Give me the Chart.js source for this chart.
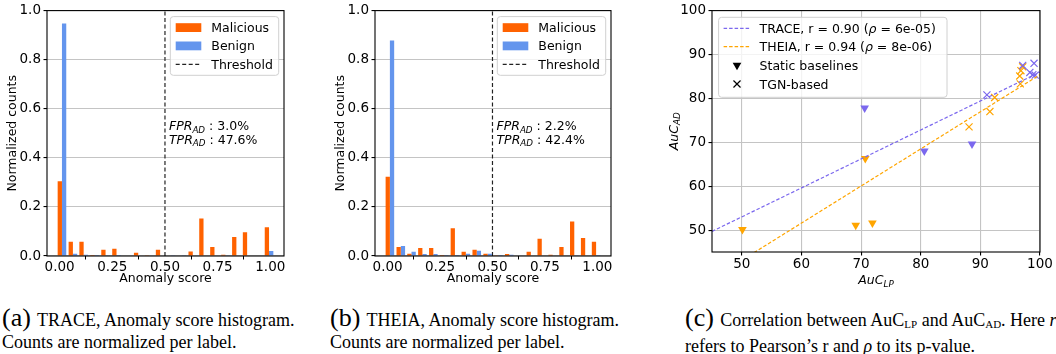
<!DOCTYPE html>
<html>
<head>
<meta charset="utf-8">
<script src="https://cdn.jsdelivr.net/npm/chart.js@4.4.1/dist/chart.umd.min.js"></script>
<style>
  html, body { margin: 0; padding: 0; background: #fff; }
  body { width: 1056px; height: 354px; position: relative; overflow: hidden; }
  canvas { position: absolute; top: 0; }
  .cap { position: absolute; top: 307px; font-family: "Liberation Serif", "Times New Roman", serif; font-size: 18px; line-height: 22px; color: #000; white-space: nowrap; }
  .cap .tag { font-size: 26px; margin-right: 2px; }
  .cap sub { font-size: 11px; vertical-align: -2px; }
</style>
</head>
<body>
<canvas id="histTrace" width="300" height="300" style="left:0"></canvas>
<canvas id="histTheia" width="310" height="300" style="left:320px"></canvas>
<canvas id="corr" width="416" height="300" style="left:640px"></canvas>

<div class="cap" style="left:2px"><span class="tag">(a)</span> TRACE, Anomaly score histogram.<br>Counts are normalized per label.</div>
<div class="cap" style="left:330px"><span class="tag">(b)</span> THEIA, Anomaly score histogram.<br>Counts are normalized per label.</div>
<div class="cap" style="left:685px"><span class="tag">(c)</span> Correlation between AuC<sub>LP</sub> and AuC<sub>AD</sub>. Here <i>r</i><br>refers to Pearson’s r and <i>ρ</i> to its p-value.</div>

<script>
/* global Chart */

// ---- data ----
var binCenters = [0.011, 0.063, 0.114, 0.166, 0.218, 0.270, 0.321, 0.373, 0.425, 0.477,
                  0.528, 0.580, 0.632, 0.683, 0.735, 0.787, 0.839, 0.890, 0.942, 0.994];
var scoreTicks = [0, 0.25, 0.5, 0.75, 1];
var countTicks = [0, 0.2, 0.4, 0.6, 0.8, 1];
var threshold = 0.5;

var traceMalicious = [0.305, 0.058, 0.058, 0.004, 0.025, 0.030, 0.002, 0.013, 0.001, 0.025,
                      0.002, 0.002, 0.018, 0.153, 0.037, 0.005, 0.077, 0.097, 0.002, 0.117];
var traceBenign = [0.947, 0.009, 0.005, 0.004, 0.003, 0.004, 0.002, 0.002, 0.002, 0.002,
                   0.001, 0.001, 0.002, 0.002, 0.002, 0.003, 0.002, 0.002, 0.002, 0.020];
var theiaMalicious = [0.323, 0.037, 0.009, 0.033, 0.033, 0.004, 0.113, 0.017, 0.025, 0.009,
                      0.003, 0.008, 0.002, 0.017, 0.070, 0.005, 0.037, 0.141, 0.073, 0.058];
var theiaBenign = [0.878, 0.041, 0.017, 0.008, 0.008, 0.004, 0.004, 0.009, 0.021, 0.009,
                   0.004, 0.005, 0.002, 0.002, 0.002, 0.002, 0.002, 0.003, 0.002, 0.004];

var histLegend = ["Malicious", "Benign", "Threshold"];

var aucTicks = [50, 60, 70, 80, 90, 100];
var traceStaticLP = [70.6, 80.6, 88.6];
var traceStaticAD = [77.8, 68.0, 69.6];
var traceTgnLP = [91.1, 97.1, 99.0, 98.3, 98.8, 99.2];
var traceTgnAD = [80.8, 87.5, 88.0, 85.9, 85.4, 85.3];
var theiaStaticLP = [50.1, 69.1, 71.9, 70.7];
var theiaStaticAD = [50.1, 51.1, 51.6, 66.3];
var theiaTgnLP = [88.1, 91.6, 92.4, 96.7, 96.6, 96.8, 97.1];
var theiaTgnAD = [73.5, 77.0, 80.2, 83.3, 85.1, 86.3, 87.2];
var fitLP = [45, 100];
var traceFitAD = [49.7, 86.0];
var theiaFitAD = [38.9, 85.4];
var traceR = "0.90", traceP = "6e-05";
var theiaR = "0.94", theiaP = "8e-06";

// ---- styling ----
var FONT = "'DejaVu Sans', sans-serif";
var SIZE = 12.5;
var TICK = 13.5;
var MALICIOUS = "#ff6200";
var BENIGN = "#6495ed";
var TRACE_C = "#7b68ee";
var THEIA_C = "#ffa500";
var GRID = "#c4c4c4";

function pairs(xs, ys) {
  return xs.map(function (x, i) { return { x: x, y: ys[i] }; });
}

function fixedTicks(list) {
  return function (scale) {
    scale.ticks = list.map(function (v) { return { value: v }; });
  };
}

// text in pieces so subscripts / italics can be mixed
function drawRuns(ctx, x, y, runs) {
  ctx.textAlign = "left";
  ctx.textBaseline = "alphabetic";
  runs.forEach(function (r) {
    ctx.font = (r.italic ? "italic " : "") + r.size + "px " + FONT;
    ctx.fillText(r.text, x, y + (r.dy || 0));
    x += ctx.measureText(r.text).width;
  });
}

function runsWidth(ctx, runs) {
  var w = 0;
  runs.forEach(function (r) {
    ctx.font = (r.italic ? "italic " : "") + r.size + "px " + FONT;
    w += ctx.measureText(r.text).width;
  });
  return w;
}

function subRuns(main, sub, rest) {
  var runs = [
    { text: main, italic: true, size: SIZE },
    { text: sub, italic: true, size: SIZE * 0.7, dy: 2.6 }
  ];
  if (rest) runs.push({ text: rest, size: SIZE });
  return runs;
}

function legendBox(ctx, x, y, w, h) {
  var r = 3;
  ctx.beginPath();
  ctx.moveTo(x + r, y);
  ctx.arcTo(x + w, y, x + w, y + h, r);
  ctx.arcTo(x + w, y + h, x, y + h, r);
  ctx.arcTo(x, y + h, x, y, r);
  ctx.arcTo(x, y, x + w, y, r);
  ctx.closePath();
  ctx.fillStyle = "rgba(255,255,255,0.8)";
  ctx.fill();
  ctx.strokeStyle = "#d0d0d0";
  ctx.lineWidth = 1;
  ctx.stroke();
}

function frame(ctx, a) {
  ctx.strokeStyle = "#000";
  ctx.lineWidth = 1.1;
  ctx.strokeRect(a.left, a.top, a.right - a.left, a.bottom - a.top);
}

function dashSample(ctx, x0, x1, y, color, dash) {
  ctx.strokeStyle = color;
  ctx.lineWidth = 1.3;
  ctx.setLineDash(dash);
  ctx.beginPath();
  ctx.moveTo(x0, y);
  ctx.lineTo(x1, y);
  ctx.stroke();
  ctx.setLineDash([]);
}

function histExtras(fpr, tpr) {
  return {
    id: "histExtras",
    afterDraw: function (chart) {
      var ctx = chart.ctx;
      var a = chart.chartArea;
      ctx.save();
      frame(ctx, a);

      // rates next to the threshold line
      var tx = chart.scales.x.getPixelForValue(threshold) + 4;
      ctx.fillStyle = "#000";
      drawRuns(ctx, tx, a.top + 119.5, subRuns("FPR", "AD", " : " + fpr));
      drawRuns(ctx, tx, a.top + 133, subRuns("TPR", "AD", " : " + tpr));

      // legend, upper right
      var bx = a.right - 113.7, by = a.top + 6;
      legendBox(ctx, bx, by, 108.4, 58.7);
      var rows = [by + 11, by + 29.3, by + 47.7];
      ctx.fillStyle = MALICIOUS;
      ctx.fillRect(bx + 5.4, rows[0] - 4.4, 25.6, 8.8);
      ctx.fillStyle = BENIGN;
      ctx.fillRect(bx + 5.4, rows[1] - 4.4, 25.6, 8.8);
      dashSample(ctx, bx + 5.4, bx + 31, rows[2], "#222", [4, 2.5]);
      ctx.fillStyle = "#000";
      histLegend.forEach(function (label, i) {
        drawRuns(ctx, bx + 41, rows[i] + 4.5, [{ text: label, size: SIZE }]);
      });

      // axis titles
      ctx.font = SIZE + "px " + FONT;
      ctx.textAlign = "center";
      ctx.textBaseline = "middle";
      ctx.fillText("Anomaly score", (a.left + a.right) / 2, 279);
      ctx.translate(a.left - 34, (a.top + a.bottom) / 2);
      ctx.rotate(-Math.PI / 2);
      ctx.fillText("Normalized counts", 0, 0);
      ctx.restore();
    }
  };
}

function histChart(id, malicious, benign, fpr, tpr, yWidth, rightPad) {
  return new Chart(document.getElementById(id), {
    type: "bar",
    data: {
      datasets: [
        {
          label: histLegend[0],
          data: pairs(binCenters, malicious),
          backgroundColor: MALICIOUS,
          borderWidth: 0,
          categoryPercentage: 0.8,
          barPercentage: 1
        },
        {
          label: histLegend[1],
          data: pairs(binCenters, benign),
          backgroundColor: BENIGN,
          borderWidth: 0,
          categoryPercentage: 0.8,
          barPercentage: 1
        },
        {
          type: "line",
          label: histLegend[2],
          data: [{ x: threshold, y: countTicks[0] }, { x: threshold, y: countTicks[countTicks.length - 1] }],
          borderColor: "#222",
          borderWidth: 1.2,
          borderDash: [4, 2.5],
          pointRadius: 0
        }
      ]
    },
    options: {
      responsive: false,
      animation: false,
      events: [],
      layout: { padding: { left: 0, top: 8, right: rightPad, bottom: 0 } },
      plugins: { legend: { display: false }, tooltip: { enabled: false } },
      scales: {
        x: {
          type: "linear",
          min: -0.06,
          max: 1.065,
          offset: false,
          afterBuildTicks: fixedTicks(scoreTicks),
          afterFit: function (s) { s.height = 44; },
          grid: { drawOnChartArea: false, tickLength: 3.5, tickColor: "#000" },
          border: { display: false },
          ticks: {
            color: "#000",
            font: { family: FONT, size: TICK },
            padding: 0,
            autoSkip: false,
            maxRotation: 0,
            callback: function (v) { return v.toFixed(2); }
          }
        },
        y: {
          min: 0,
          max: 1,
          afterBuildTicks: fixedTicks(countTicks),
          afterFit: function (s) { s.width = yWidth; },
          grid: { color: GRID, lineWidth: 1.1, tickLength: 3.5, tickColor: "#000" },
          border: { display: false },
          ticks: {
            color: "#000",
            font: { family: FONT, size: TICK },
            padding: 2.5,
            autoSkip: false,
            callback: function (v) { return v.toFixed(1); }
          }
        }
      }
    },
    plugins: [histExtras(fpr, tpr)]
  });
}

histChart("histTrace", traceMalicious, traceBenign, "3.0%", "47.6%", 47, 16);
histChart("histTheia", theiaMalicious, theiaBenign, "2.2%", "42.4%", 55, 19);

// ---- correlation scatter ----
function downTriangle(ctx, x, y, r) {
  var s = r * Math.sin(Math.PI / 3);
  ctx.beginPath();
  ctx.moveTo(x, y + r);
  ctx.lineTo(x - s, y - r / 2);
  ctx.lineTo(x + s, y - r / 2);
  ctx.closePath();
  ctx.fill();
}

function xMark(ctx, x, y, r) {
  var d = r * Math.SQRT1_2;
  ctx.beginPath();
  ctx.moveTo(x - d, y - d);
  ctx.lineTo(x + d, y + d);
  ctx.moveTo(x - d, y + d);
  ctx.lineTo(x + d, y - d);
  ctx.stroke();
}

var corrExtras = {
  id: "corrExtras",
  afterDraw: function (chart) {
    var ctx = chart.ctx;
    var a = chart.chartArea;
    ctx.save();
    frame(ctx, a);

    var bx = a.left + 6.6, by = a.top + 6.7;
    legendBox(ctx, bx, by, 228.4, 80);
    var rows = [by + 11, by + 29.3, by + 48, by + 66.7];
    dashSample(ctx, bx + 5, bx + 31.7, rows[0], TRACE_C, [3.5, 2]);
    dashSample(ctx, bx + 5, bx + 31.7, rows[1], THEIA_C, [3.5, 2]);
    ctx.fillStyle = "#000";
    ctx.strokeStyle = "#000";
    ctx.lineWidth = 1.2;
    downTriangle(ctx, bx + 18.4, rows[2], 5);
    xMark(ctx, bx + 18.4, rows[3], 5);

    var tx = bx + 41;
    drawRuns(ctx, tx, rows[0] + 4.5, [
      { text: "TRACE, r = " + traceR + " (", size: SIZE },
      { text: "ρ", italic: true, size: SIZE },
      { text: " = " + traceP + ")", size: SIZE }
    ]);
    drawRuns(ctx, tx, rows[1] + 4.5, [
      { text: "THEIA, r = " + theiaR + " (", size: SIZE },
      { text: "ρ", italic: true, size: SIZE },
      { text: " = " + theiaP + ")", size: SIZE }
    ]);
    drawRuns(ctx, tx, rows[2] + 4.5, [{ text: "Static baselines", size: SIZE }]);
    drawRuns(ctx, tx, rows[3] + 4.5, [{ text: "TGN-based", size: SIZE }]);

    // axis titles with subscripts
    var xt = subRuns("AuC", "LP");
    drawRuns(ctx, (a.left + a.right) / 2 - runsWidth(ctx, xt) / 2, 284, xt);
    var yt = subRuns("AuC", "AD");
    ctx.translate(a.left - 39, (a.top + a.bottom) / 2);
    ctx.rotate(-Math.PI / 2);
    drawRuns(ctx, -runsWidth(ctx, yt) / 2, 4.5, yt);
    ctx.restore();
  }
};

new Chart(document.getElementById("corr"), {
  type: "scatter",
  data: {
    datasets: [
      {
        type: "line",
        data: pairs(fitLP, traceFitAD),
        borderColor: TRACE_C,
        borderWidth: 1.2,
        borderDash: [3.5, 2],
        pointRadius: 0
      },
      {
        type: "line",
        data: pairs(fitLP, theiaFitAD),
        borderColor: THEIA_C,
        borderWidth: 1.2,
        borderDash: [3.5, 2],
        pointRadius: 0
      },
      {
        data: pairs(traceStaticLP, traceStaticAD),
        pointStyle: "triangle",
        rotation: 180,
        pointRadius: 5,
        backgroundColor: TRACE_C,
        borderWidth: 0
      },
      {
        data: pairs(theiaStaticLP, theiaStaticAD),
        pointStyle: "triangle",
        rotation: 180,
        pointRadius: 5,
        backgroundColor: THEIA_C,
        borderWidth: 0
      },
      {
        data: pairs(traceTgnLP, traceTgnAD),
        pointStyle: "crossRot",
        pointRadius: 5,
        borderColor: TRACE_C,
        borderWidth: 1.2
      },
      {
        data: pairs(theiaTgnLP, theiaTgnAD),
        pointStyle: "crossRot",
        pointRadius: 5,
        borderColor: THEIA_C,
        borderWidth: 1.2
      }
    ]
  },
  options: {
    responsive: false,
    animation: false,
    events: [],
    layout: { padding: { left: 0, top: 7, right: 16, bottom: 0 } },
    plugins: { legend: { display: false }, tooltip: { enabled: false } },
    scales: {
      x: {
        type: "linear",
        min: 45,
        max: 100,
        afterBuildTicks: fixedTicks(aucTicks),
        afterFit: function (s) { s.height = 48; },
        grid: { color: GRID, lineWidth: 1.1, tickLength: 3.5, tickColor: "#000" },
        border: { display: false },
        ticks: { color: "#000", font: { family: FONT, size: TICK }, padding: 1, autoSkip: false, maxRotation: 0 }
      },
      y: {
        min: 45,
        max: 100,
        afterBuildTicks: fixedTicks(aucTicks),
        afterFit: function (s) { s.width = 72; },
        grid: { color: GRID, lineWidth: 1.1, tickLength: 3.5, tickColor: "#000" },
        border: { display: false },
        ticks: { color: "#000", font: { family: FONT, size: TICK }, padding: 2.5, autoSkip: false }
      }
    }
  },
  plugins: [corrExtras]
});
</script>
</body>
</html>
